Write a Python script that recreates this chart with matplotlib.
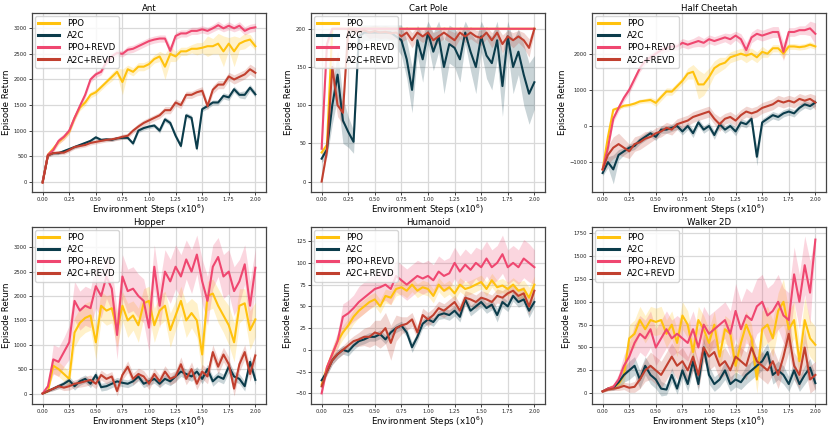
import numpy as np
import matplotlib
matplotlib.use("Agg")
import matplotlib.pyplot as plt

# environment steps (x1e6)
STEPS = [0.00, 0.05, 0.10, 0.15, 0.20, 0.25, 0.30, 0.35, 0.40, 0.45,
         0.50, 0.55, 0.60, 0.65, 0.70, 0.75, 0.80, 0.85, 0.90, 0.95,
         1.00, 1.05, 1.10, 1.15, 1.20, 1.25, 1.30, 1.35, 1.40, 1.45,
         1.50, 1.55, 1.60, 1.65, 1.70, 1.75, 1.80, 1.85, 1.90, 1.95, 2.00]

SERIES = ["PPO", "A2C", "PPO+REVD", "A2C+REVD"]
TITLES = ["Ant", "Cart Pole", "Half Cheetah", "Hopper", "Humanoid", "Walker 2D"]

# ---------------- Ant ----------------
ANT_PPO = [0, 530, 650, 780, 870, 980, 1250, 1450, 1550, 1700,
           1750, 1850, 1950, 2050, 2150, 1950, 2200, 2150, 2250, 2250,
           2300, 2400, 2450, 2250, 2500, 2450, 2550, 2550, 2600, 2600,
           2620, 2650, 2650, 2700, 2550, 2700, 2550, 2700, 2750, 2780, 2650]
ANT_PPO_SD = [20, 40, 50, 50, 50, 50, 60, 60, 60, 60,
              60, 60, 60, 80, 80, 250, 80, 80, 80, 80,
              80, 80, 100, 250, 150, 100, 80, 80, 80, 120,
              100, 200, 150, 200, 300, 120, 300, 120, 150, 100, 80]
ANT_A2C = [0, 520, 560, 560, 600, 640, 680, 720, 760, 800,
           870, 820, 830, 820, 850, 860, 860, 750, 1000, 1050,
           1080, 1100, 1000, 1220, 1150, 900, 700, 1300, 1250, 650,
           1420, 1480, 1550, 1550, 1680, 1650, 1810, 1700, 1700, 1840, 1710]
ANT_A2C_SD = [10, 30, 30, 30, 30, 30, 30, 30, 30, 30,
              30, 30, 30, 30, 30, 30, 30, 40, 40, 40,
              40, 40, 50, 50, 50, 50, 50, 50, 50, 60,
              50, 50, 50, 50, 60, 60, 60, 60, 80, 60, 60]
ANT_PPO_REVD = [0, 530, 620, 800, 880, 1000, 1250, 1480, 1700, 2000,
                2100, 2150, 2350, 2450, 2520, 2500, 2580, 2600, 2650, 2700,
                2750, 2780, 2800, 2800, 2560, 2850, 2900, 2900, 2950, 2950,
                2980, 2950, 3000, 3060, 3000, 3050, 3000, 3050, 2950, 3000, 3020]
ANT_PPO_REVD_SD = [20, 40, 50, 60, 60, 60, 60, 60, 60, 60,
                   60, 60, 60, 60, 60, 60, 70, 70, 70, 70,
                   70, 70, 70, 70, 100, 70, 70, 70, 70, 70,
                   70, 70, 70, 80, 70, 80, 70, 80, 80, 80, 80]
ANT_A2C_REVD = [-20, 520, 560, 570, 570, 620, 680, 700, 720, 760,
                780, 800, 820, 830, 850, 880, 900, 1000, 1080, 1150,
                1200, 1250, 1300, 1400, 1400, 1550, 1500, 1700, 1700, 1750,
                1780, 1480, 1800, 1900, 1900, 2060, 2000, 2050, 2100, 2200, 2130]
ANT_A2C_REVD_SD = [20, 40, 40, 40, 40, 40, 40, 40, 40, 40,
                   40, 40, 40, 40, 40, 50, 50, 50, 60, 60,
                   60, 60, 60, 70, 70, 70, 70, 70, 70, 70,
                   80, 80, 80, 80, 80, 80, 90, 90, 90, 100, 100]

# ---------------- Cart Pole ----------------
CP_PPO = [38, 48, 200, 200, 200, 200, 200, 200, 200, 200,
          200, 200, 200, 200, 200, 200, 200, 200, 200, 200,
          200, 200, 200, 200, 200, 200, 200, 200, 200, 200,
          200, 200, 200, 200, 200, 200, 200, 200, 200, 200, 200]
CP_PPO_SD = [3, 5, 0, 0, 0, 0, 0, 0, 0, 0,
             0, 0, 0, 0, 0, 0, 0, 0, 0, 0,
             0, 0, 0, 0, 0, 0, 0, 0, 0, 0,
             0, 0, 0, 0, 0, 0, 0, 0, 0, 0, 0]
CP_A2C = [30, 42, 100, 140, 80, 65, 52, 190, 195, 195,
          195, 195, 195, 195, 190, 185, 160, 120, 185, 160,
          195, 170, 190, 150, 180, 175, 160, 195, 170, 150,
          190, 165, 155, 185, 125, 190, 150, 170, 140, 115, 130]
CP_A2C_SD = [5, 10, 25, 30, 30, 20, 15, 15, 10, 10,
             10, 10, 10, 10, 15, 20, 25, 30, 20, 30,
             15, 25, 20, 35, 25, 25, 30, 15, 25, 35,
             20, 30, 35, 25, 40, 20, 35, 30, 40, 40, 35]
CP_PPO_REVD = [43, 180, 200, 200, 200, 200, 200, 200, 200, 200,
               200, 200, 200, 200, 200, 200, 200, 200, 200, 200,
               200, 200, 200, 200, 200, 200, 200, 200, 200, 200,
               200, 200, 200, 200, 200, 200, 200, 200, 200, 200, 200]
CP_PPO_REVD_SD = [3, 10, 0, 0, 0, 0, 0, 0, 0, 0,
                  0, 0, 0, 0, 0, 0, 0, 0, 0, 0,
                  0, 0, 0, 0, 0, 0, 0, 0, 0, 0,
                  0, 0, 0, 0, 0, 0, 0, 0, 0, 0, 0]
CP_A2C_REVD = [0, 40, 150, 100, 90, 200, 198, 196, 198, 195,
               197, 195, 196, 194, 195, 190, 195, 185, 195, 190,
               195, 185, 190, 195, 190, 185, 195, 190, 195, 190,
               188, 195, 185, 195, 180, 190, 185, 190, 185, 175, 200]
CP_A2C_REVD_SD = [3, 5, 20, 15, 15, 5, 5, 5, 5, 8,
                  8, 8, 8, 8, 8, 8, 8, 10, 8, 8,
                  8, 10, 8, 8, 8, 10, 8, 8, 8, 8,
                  10, 8, 10, 8, 12, 8, 10, 8, 10, 12, 5]

# ---------------- Half Cheetah ----------------
HC_PPO = [-1200, -300, 450, 500, 560, 580, 620, 680, 700, 720,
          640, 800, 955, 950, 1100, 1250, 1450, 1500, 1150, 1150,
          1350, 1600, 1700, 1750, 1900, 1950, 2000, 1950, 2000, 1900,
          2050, 2000, 2150, 2150, 2000, 2200, 2200, 2180, 2200, 2250, 2200]
HC_PPO_SD = [50, 100, 60, 50, 50, 50, 60, 60, 60, 80,
             100, 100, 100, 100, 100, 100, 150, 200, 400, 300,
             250, 200, 200, 150, 150, 150, 150, 200, 150, 150,
             150, 100, 100, 100, 150, 80, 80, 80, 80, 80, 80]
HC_A2C = [-1300, -1000, -1200, -800, -700, -600, -550, -400, -300, -200,
          -300, -100, -100, -50, 0, -150, 0, -200, 100, -100,
          0, -250, 50, -100, 0, -150, 100, 50, 200, -850,
          100, 200, 300, 250, 350, 400, 350, 500, 600, 550, 650]
HC_A2C_SD = [80, 150, 400, 150, 100, 100, 100, 100, 100, 100,
             100, 100, 100, 100, 100, 100, 100, 120, 100, 100,
             100, 120, 100, 100, 100, 120, 100, 100, 100, 250,
             100, 100, 100, 100, 100, 100, 100, 100, 100, 100, 100]
HC_PPO_REVD = [-1200, -600, 200, 500, 780, 1000, 1300, 1600, 1800, 1900,
               2000, 2100, 2150, 2200, 2200, 2300, 2250, 2300, 2350, 2300,
               2400, 2350, 2400, 2450, 2400, 2500, 2400, 2100, 2450, 2550,
               2500, 2550, 2600, 2600, 2050, 2600, 2600, 2650, 2650, 2700, 2550]
HC_PPO_REVD_SD = [80, 100, 100, 100, 100, 100, 100, 100, 100, 100,
                  100, 100, 100, 100, 100, 120, 120, 120, 150, 120,
                  120, 120, 120, 120, 150, 120, 150, 200, 150, 150,
                  150, 150, 150, 150, 250, 120, 120, 120, 120, 200, 300]
HC_A2C_REVD = [-1200, -800, -600, -500, -600, -700, -500, -450, -350, -300,
               -200, -150, -50, -100, 50, 100, 150, 250, 300, 350,
               400, 200, 50, 200, 250, 150, 300, 400, 350, 400,
               500, 550, 600, 700, 650, 700, 650, 750, 700, 750, 650]
HC_A2C_REVD_SD = [100, 250, 300, 300, 250, 200, 200, 200, 200, 150,
                  150, 150, 150, 150, 150, 150, 150, 150, 150, 150,
                  150, 150, 200, 150, 150, 150, 150, 150, 150, 150,
                  150, 150, 150, 150, 150, 150, 150, 150, 150, 150, 200]

# ---------------- Hopper ----------------
HOP_PPO = [0, 50, 570, 500, 400, 300, 1250, 1450, 1550, 1600,
           1050, 1800, 1700, 1750, 1300, 1800, 1500, 1600, 1400, 1850,
           1900, 1400, 1700, 1800, 1300, 1600, 1900, 1500, 1650, 1500,
           800, 2000, 2050, 1800, 1600, 1400, 1050, 1800, 1850, 1300, 1520]
HOP_PPO_SD = [10, 30, 150, 150, 150, 150, 300, 300, 300, 300,
              350, 300, 300, 300, 350, 300, 350, 300, 350, 300,
              300, 350, 300, 300, 350, 300, 300, 350, 300, 350,
              400, 300, 300, 350, 350, 400, 400, 350, 300, 400, 350]
HOP_A2C = [0, 50, 100, 150, 200, 270, 150, 250, 300, 200,
           380, 130, 150, 200, 250, 220, 200, 250, 350, 200,
           250, 300, 200, 300, 250, 350, 450, 400, 350, 450,
           300, 500, 250, 350, 300, 550, 350, 300, 150, 650, 280]
HOP_A2C_SD = [5, 20, 40, 50, 60, 80, 80, 80, 80, 80,
              80, 80, 80, 80, 80, 80, 80, 80, 90, 80,
              80, 90, 80, 90, 90, 100, 100, 100, 100, 100,
              100, 100, 100, 100, 100, 120, 100, 100, 100, 120, 100]
HOP_PPO_REVD = [0, 150, 700, 650, 850, 1050, 1900, 1700, 1800, 1750,
                2200, 2000, 2400, 2150, 1200, 2400, 2100, 2150, 2000, 1900,
                1350, 2600, 1800, 2500, 2300, 2600, 2400, 2750, 2500, 2850,
                2300, 1900, 2600, 2800, 2400, 2500, 2100, 2300, 2650, 1800, 2580]
HOP_PPO_REVD_SD = [10, 60, 300, 300, 300, 350, 400, 400, 400, 400,
                   450, 450, 450, 450, 500, 450, 450, 450, 450, 450,
                   500, 450, 450, 450, 450, 450, 450, 400, 450, 400,
                   450, 500, 450, 400, 450, 450, 500, 450, 400, 500, 400]
HOP_A2C_REVD = [0, 50, 100, 150, 120, 150, 200, 220, 250, 280,
                200, 380, 300, 350, 50, 380, 550, 300, 400, 350,
                200, 400, 250, 450, 300, 350, 600, 300, 500, 200,
                450, 350, 850, 550, 800, 600, 100, 600, 850, 400, 780]
HOP_A2C_REVD_SD = [5, 20, 40, 50, 60, 80, 80, 90, 100, 100,
                   100, 100, 100, 100, 100, 100, 120, 120, 120, 120,
                   120, 120, 120, 120, 120, 120, 150, 120, 150, 120,
                   150, 150, 150, 150, 150, 150, 150, 150, 150, 150, 150]

# ---------------- Humanoid ----------------
HUM_PPO = [-40, -20, -5, 10, 20, 28, 38, 45, 50, 55,
           58, 50, 62, 60, 70, 72, 68, 75, 68, 72,
           70, 62, 75, 68, 72, 65, 75, 70, 72, 75,
           78, 70, 80, 72, 74, 70, 75, 68, 70, 60, 75]
HUM_PPO_SD = [3, 5, 6, 8, 8, 8, 8, 8, 8, 8,
              8, 8, 8, 8, 8, 8, 8, 8, 8, 8,
              8, 8, 8, 8, 8, 8, 8, 8, 8, 8,
              8, 8, 8, 8, 8, 8, 8, 10, 10, 12, 10]
HUM_A2C = [-35, -25, -12, -5, 0, -2, 5, 10, 12, 15,
           15, 18, 12, 20, 25, 28, 20, 3, 15, 30,
           35, 32, 40, 42, 40, 45, 38, 58, 45, 50,
           55, 48, 52, 40, 55, 50, 62, 55, 58, 45, 55]
HUM_A2C_SD = [3, 4, 5, 5, 5, 5, 5, 5, 5, 5,
              5, 5, 5, 5, 5, 5, 5, 6, 5, 5,
              5, 5, 5, 6, 6, 6, 6, 6, 6, 6,
              6, 6, 6, 8, 6, 6, 6, 6, 6, 8, 6]
HUM_PPO_REVD = [-50, -20, -5, 10, 38, 42, 48, 55, 60, 65,
                70, 72, 75, 70, 85, 80, 75, 80, 85, 82,
                85, 80, 90, 85, 88, 100, 90, 98, 92, 100,
                95, 105, 95, 100, 110, 95, 100, 95, 105, 100, 95]
HUM_PPO_REVD_SD = [3, 5, 8, 10, 15, 15, 15, 18, 18, 18,
                   18, 18, 18, 18, 18, 18, 18, 18, 18, 18,
                   18, 18, 18, 18, 18, 18, 18, 18, 18, 18,
                   20, 20, 20, 20, 22, 20, 20, 20, 22, 22, 20]
HUM_A2C_REVD = [-42, -25, -12, -5, 0, 5, 10, 12, 15, 15,
                20, 18, 25, 8, 25, 28, 30, 35, 20, 40,
                35, 40, 48, 45, 50, 55, 45, 60, 58, 55,
                60, 58, 55, 62, 60, 65, 68, 62, 65, 50, 68]
HUM_A2C_REVD_SD = [3, 4, 5, 5, 5, 6, 6, 8, 10, 12,
                   14, 16, 18, 20, 15, 10, 8, 8, 8, 8,
                   8, 8, 8, 8, 8, 8, 8, 8, 8, 8,
                   8, 8, 8, 8, 8, 8, 8, 8, 8, 10, 8]

# ---------------- Walker 2D ----------------
WAL_PPO = [20, 50, 70, 100, 200, 600, 650, 800, 700, 800,
           780, 800, 650, 750, 550, 850, 750, 450, 800, 700,
           550, 750, 400, 700, 650, 300, 550, 750, 600, 150,
           700, 750, 600, 900, 1000, 700, 800, 350, 800, 600, 530]
WAL_PPO_SD = [10, 20, 30, 50, 100, 150, 150, 150, 150, 150,
              150, 150, 150, 150, 150, 150, 150, 150, 150, 150,
              150, 150, 150, 150, 150, 150, 150, 150, 150, 150,
              200, 200, 200, 200, 250, 200, 200, 200, 250, 200, 200]
WAL_A2C = [20, 50, 60, 120, 200, 250, 300, 150, 300, 200,
           150, 50, 40, 200, 50, 250, 100, 350, 100, 500,
           200, 100, 150, 250, 100, 150, 120, 200, 250, 300,
           350, 450, 200, 250, 200, 100, 250, 100, 200, 280, 110]
WAL_A2C_SD = [10, 20, 30, 60, 80, 100, 100, 100, 100, 100,
              100, 80, 60, 80, 60, 80, 80, 100, 80, 100,
              100, 80, 80, 100, 80, 80, 80, 100, 100, 100,
              100, 100, 100, 100, 100, 80, 100, 80, 100, 100, 80]
WAL_PPO_REVD = [20, 50, 70, 150, 300, 400, 550, 650, 600, 700,
                500, 600, 700, 600, 650, 600, 550, 700, 500, 750,
                650, 700, 750, 800, 650, 900, 700, 850, 800, 950,
                1000, 850, 900, 1000, 850, 800, 1300, 1000, 1400, 1100, 1680]
WAL_PPO_REVD_SD = [10, 20, 30, 60, 120, 150, 200, 200, 200, 200,
                   200, 200, 200, 200, 200, 200, 200, 200, 200, 200,
                   200, 200, 200, 200, 250, 300, 300, 300, 300, 300,
                   300, 300, 300, 300, 300, 300, 300, 300, 320, 350, 50]
WAL_A2C_REVD = [20, 40, 50, 60, 80, 60, 70, 150, 250, 300,
                250, 200, 300, 400, 300, 350, 250, 400, 200, 500,
                400, 450, 300, 350, 250, 400, 350, 300, 500, 350,
                300, 250, 350, 200, 400, 650, 300, 200, 500, 150, 200]
WAL_A2C_REVD_SD = [10, 15, 20, 30, 40, 50, 60, 100, 120, 150,
                   150, 150, 150, 150, 150, 150, 150, 150, 150, 150,
                   150, 150, 150, 150, 150, 150, 150, 150, 150, 150,
                   150, 150, 150, 150, 150, 200, 150, 150, 200, 150, 150]

PANELS = [
    [(ANT_PPO, ANT_PPO_SD), (ANT_A2C, ANT_A2C_SD), (ANT_PPO_REVD, ANT_PPO_REVD_SD), (ANT_A2C_REVD, ANT_A2C_REVD_SD)],
    [(CP_PPO, CP_PPO_SD), (CP_A2C, CP_A2C_SD), (CP_PPO_REVD, CP_PPO_REVD_SD), (CP_A2C_REVD, CP_A2C_REVD_SD)],
    [(HC_PPO, HC_PPO_SD), (HC_A2C, HC_A2C_SD), (HC_PPO_REVD, HC_PPO_REVD_SD), (HC_A2C_REVD, HC_A2C_REVD_SD)],
    [(HOP_PPO, HOP_PPO_SD), (HOP_A2C, HOP_A2C_SD), (HOP_PPO_REVD, HOP_PPO_REVD_SD), (HOP_A2C_REVD, HOP_A2C_REVD_SD)],
    [(HUM_PPO, HUM_PPO_SD), (HUM_A2C, HUM_A2C_SD), (HUM_PPO_REVD, HUM_PPO_REVD_SD), (HUM_A2C_REVD, HUM_A2C_REVD_SD)],
    [(WAL_PPO, WAL_PPO_SD), (WAL_A2C, WAL_A2C_SD), (WAL_PPO_REVD, WAL_PPO_REVD_SD), (WAL_A2C_REVD, WAL_A2C_REVD_SD)],
]
YTICKS = [
    [0, 500, 1000, 1500, 2000, 2500, 3000],
    [0, 50, 100, 150, 200],
    [-1000, 0, 1000, 2000],
    [0, 500, 1000, 1500, 2000, 2500, 3000],
    [-50, -25, 0, 25, 50, 75, 100, 125],
    [0, 250, 500, 750, 1000, 1250, 1500, 1750],
]
XTICKS = [0.0, 0.25, 0.5, 0.75, 1.0, 1.25, 1.5, 1.75, 2.0]

COLORS = ["#FFC20E", "#0B3C4B", "#EF4770", "#C1402F"]

plt.rcParams['font.family'] = ['DejaVu Sans']
W, H = 831, 429
fig = plt.figure(figsize=(W / 100, H / 100), dpi=100)

lefts = [32, 311, 592]
tops = [13, 227]
heights = [179, 177]
aw = 234

x = np.array(STEPS)
for i, title in enumerate(TITLES):
    r, c = divmod(i, 3)
    ah = heights[r]
    ax = fig.add_axes([lefts[c] / W, 1 - (tops[r] + ah) / H, aw / W, ah / H])
    for (mean, sd), name, col in zip(PANELS[i], SERIES, COLORS):
        m = np.array(mean, dtype=float)
        s = np.array(sd, dtype=float)
        ax.fill_between(x, m - s, m + s, color=col, alpha=0.22, linewidth=0)
        ax.plot(x, m, color=col, lw=1.5, label=name, zorder=3)
    ax.set_title(title, fontsize=6.2, pad=1.5)
    ax.set_xlabel(r'Environment Steps (x10$^{6}$)', fontsize=6.2, labelpad=0.5)
    ax.set_ylabel('Episode Return', fontsize=6.2, labelpad=2)
    ax.set_xticks(XTICKS)
    ax.set_xticklabels([f"{t:.2f}" for t in XTICKS])
    ax.set_yticks(YTICKS[i])
    ax.tick_params(labelsize=3.8, length=2.2, width=0.6, pad=1.2, colors='#222222')
    ax.grid(True, color='#d9d9d9', lw=0.9)
    ax.set_axisbelow(True)
    for sp in ax.spines.values():
        sp.set_color('#444444')
        sp.set_linewidth(0.9)
    leg = ax.legend(loc='upper left', fontsize=6.2, handlelength=2.4,
                    handletextpad=0.9, borderpad=0.4, labelspacing=0.35,
                    framealpha=0.8, borderaxespad=0.35)
    for ln in leg.get_lines():
        ln.set_linewidth(2.2)

fig.savefig("out.png", dpi=100)
